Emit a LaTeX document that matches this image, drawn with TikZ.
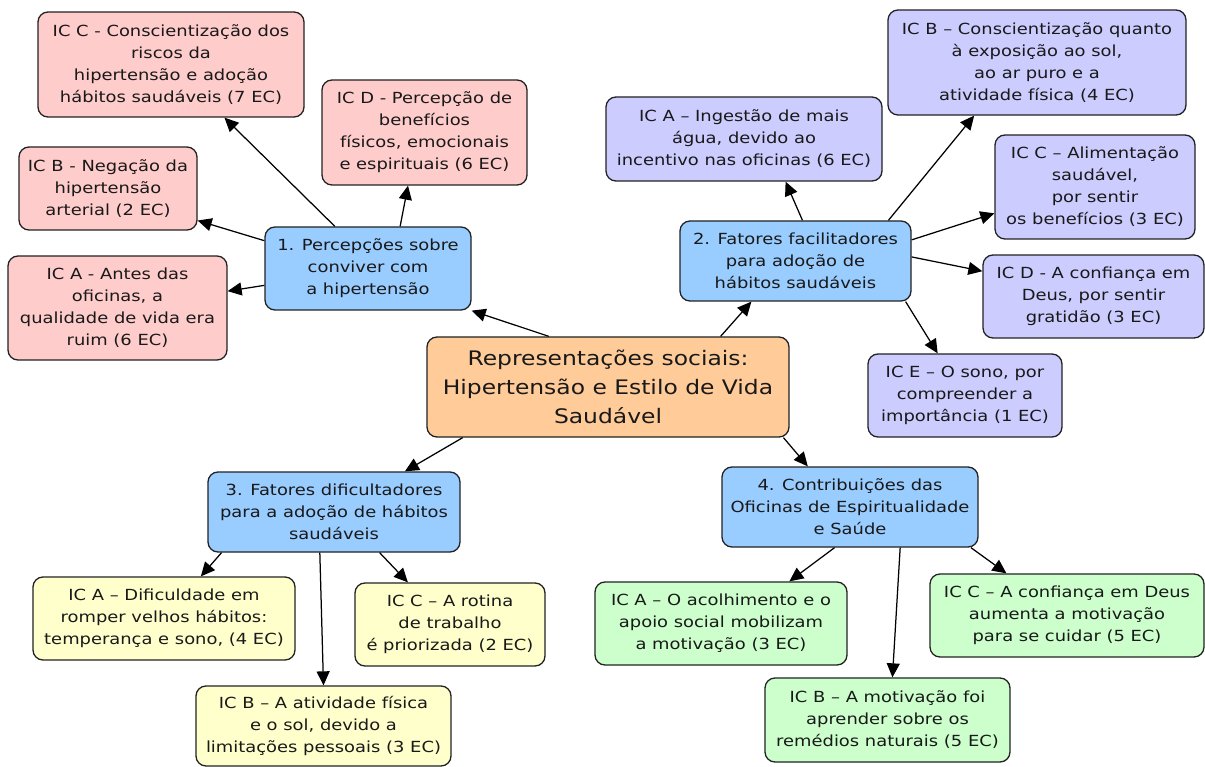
\documentclass[tikz,border=0pt]{standalone}
\usepackage{fontspec}
\setmainfont{DejaVu Sans}[FakeStretch=1.17]
\usetikzlibrary{arrows.meta,calc}
\definecolor{pinkc}{HTML}{FFCCCC}
\definecolor{purpc}{HTML}{CCCCFF}
\definecolor{bluec}{HTML}{99CCFF}
\definecolor{orangec}{HTML}{FFCC99}
\definecolor{yellc}{HTML}{FFFFCC}
\definecolor{greenc}{HTML}{CCFFCC}
\definecolor{edgec}{HTML}{222222}
\begin{document}
\begin{tikzpicture}[x=1pt,y=-1pt,
  box/.style={draw=edgec,line width=1.3pt,rounded corners=10pt,inner sep=0pt,align=center,
    font=\fontsize{15.3}{22}\selectfont,text=black!90},
  pinkbox/.style={box,fill=pinkc},
  purpbox/.style={box,fill=purpc},
  bluebox/.style={box,fill=bluec},
  yellbox/.style={box,fill=yellc},
  greenbox/.style={box,fill=greenc},
  conn/.style={draw=black,line width=1.25pt,-{Triangle[length=14pt,width=13pt]}}
]
\useasboundingbox (0,0) rectangle (1205,767);

% central
\node[box,fill=orangec,minimum width=362pt,minimum height=100pt,font=\fontsize{20}{29}\selectfont] (C) at (608,387)
  {Representações sociais:\\Hipertensão e Estilo de Vida\\Saudável};

% main themes
\node[bluebox,minimum width=206pt,minimum height=83pt] (N1) at (368,268.5)
  {1. Percepções sobre\\conviver com\\a hipertensão};
\node[bluebox,minimum width=231pt,minimum height=80pt] (N2) at (795.5,261)
  {2. Fatores facilitadores\\para adoção de\\hábitos saudáveis};
\node[bluebox,minimum width=252pt,minimum height=80pt] (N3) at (334,512)
  {3. Fatores dificultadores\\para a adoção de hábitos\\saudáveis};
\node[bluebox,minimum width=256pt,minimum height=80pt] (N4) at (850,507)
  {4. Contribuições das\\Oficinas de Espiritualidade\\e Saúde};

% theme 1
\node[pinkbox,minimum width=266pt,minimum height=105pt] (P1C) at (171,64.5)
  {IC C - Conscientização dos\\riscos da\\hipertensão e adoção\\hábitos saudáveis (7 EC)};
\node[pinkbox,minimum width=205pt,minimum height=105pt] (P1D) at (424.5,132.5)
  {IC D - Percepção de\\benefícios\\físicos, emocionais\\e espirituais (6 EC)};
\node[pinkbox,minimum width=178pt,minimum height=83pt] (P1B) at (108,188.5)
  {IC B - Negação da\\hipertensão\\arterial (2 EC)};
\node[pinkbox,minimum width=219pt,minimum height=104pt] (P1A) at (117.5,308)
  {IC A - Antes das\\oficinas, a\\qualidade de vida era\\ruim (6 EC)};

% theme 2
\node[purpbox,minimum width=298pt,minimum height=105pt] (P2B) at (1037,62.5)
  {IC B – Conscientização quanto\\à exposição ao sol,\\ao ar puro e a\\atividade física (4 EC)};
\node[purpbox,minimum width=276pt,minimum height=84pt] (P2A) at (744,139)
  {IC A – Ingestão de mais\\água, devido ao\\incentivo nas oficinas (6 EC)};
\node[purpbox,minimum width=200pt,minimum height=104pt] (P2C) at (1095,187)
  {IC C – Alimentação\\saudável,\\por sentir\\os benefícios (3 EC)};
\node[purpbox,minimum width=221pt,minimum height=83pt] (P2D) at (1093.5,296.5)
  {IC D - A confiança em\\Deus, por sentir\\gratidão (3 EC)};
\node[purpbox,minimum width=194pt,minimum height=83pt] (P2E) at (965,395.5)
  {IC E – O sono, por\\compreender a\\importância (1 EC)};

% theme 3
\node[yellbox,minimum width=262pt,minimum height=83pt] (P3A) at (164,618.5)
  {IC A – Dificuldade em\\romper velhos hábitos:\\temperança e sono, (4 EC)};
\node[yellbox,minimum width=190pt,minimum height=83pt] (P3C) at (450,624.5)
  {IC C – A rotina\\de trabalho\\é priorizada (2 EC)};
\node[yellbox,minimum width=255pt,minimum height=80pt] (P3B) at (323.5,726)
  {IC B – A atividade física\\e o sol, devido a\\limitações pessoais (3 EC)};

% theme 4
\node[greenbox,minimum width=252pt,minimum height=83pt] (P4A) at (721,623.5)
  {IC A – O acolhimento e o\\apoio social mobilizam\\a motivação (3 EC)};
\node[greenbox,minimum width=274pt,minimum height=83pt] (P4C) at (1067,615.5)
  {IC C – A confiança em Deus\\aumenta a motivação\\para se cuidar (5 EC)};
\node[greenbox,minimum width=245pt,minimum height=84pt] (P4B) at (887.5,720)
  {IC B – A motivação foi\\aprender sobre os\\remédios naturais (5 EC)};

% connectors from centre
\draw[conn] ($(C.north west)!0.337!(C.north east)$) -- (N1.south east);
\draw[conn] ($(C.north west)!0.81!(C.north east)$) -- ($(N2.south west)!0.31!(N2.south east)$);
\draw[conn] ($(C.south west)!0.1!(C.south east)$) -- ($(N3.north west)!0.78!(N3.north east)$);
\draw[conn] ($(C.south west)!0.983!(C.south east)$) -- ($(N4.north west)!0.336!(N4.north east)$);

% theme 1
\draw[conn] ($(N1.north west)!0.34!(N1.north east)$) -- ($(P1C.south west)!0.70!(P1C.south east)$);
\draw[conn] ($(N1.north west)!0.655!(N1.north east)$) -- ($(P1D.south west)!0.42!(P1D.south east)$);
\draw[conn] ($(N1.north west)!0.17!(N1.south west)$) -- ($(P1B.north east)!0.88!(P1B.south east)$);
\draw[conn] ($(N1.north west)!0.70!(N1.south west)$) -- ($(P1A.north east)!0.34!(P1A.south east)$);

% theme 2
\draw[conn] ($(N2.north west)!0.53!(N2.north east)$) -- ($(P2A.south west)!0.65!(P2A.south east)$);
\draw[conn] ($(N2.north west)!0.90!(N2.north east)$) -- ($(P2B.south west)!0.29!(P2B.south east)$);
\draw[conn] ($(N2.north east)!0.24!(N2.south east)$) -- ($(P2C.north west)!0.75!(P2C.south west)$);
\draw[conn] ($(N2.north east)!0.45!(N2.south east)$) -- ($(P2D.north west)!0.2!(P2D.south west)$);
\draw[conn] ($(N2.south west)!0.974!(N2.south east)$) -- ($(P2E.north west)!0.36!(P2E.north east)$);

% theme 3
\draw[conn] ($(N3.south west)!0.056!(N3.south east)$) -- ($(P3A.north west)!0.64!(P3A.north east)$);
\draw[conn] ($(N3.south west)!0.444!(N3.south east)$) -- ($(P3B.north west)!0.50!(P3B.north east)$);
\draw[conn] ($(N3.south west)!0.68!(N3.south east)$) -- ($(P3C.north west)!0.28!(P3C.north east)$);

% theme 4
\draw[conn] ($(N4.south west)!0.44!(N4.south east)$) -- ($(P4A.north west)!0.77!(P4A.north east)$);
\draw[conn] ($(N4.south west)!0.695!(N4.south east)$) -- ($(P4B.north west)!0.52!(P4B.north east)$);
\draw[conn] ($(N4.south west)!0.97!(N4.south east)$) -- ($(P4C.north west)!0.28!(P4C.north east)$);
\end{tikzpicture}
\end{document}
